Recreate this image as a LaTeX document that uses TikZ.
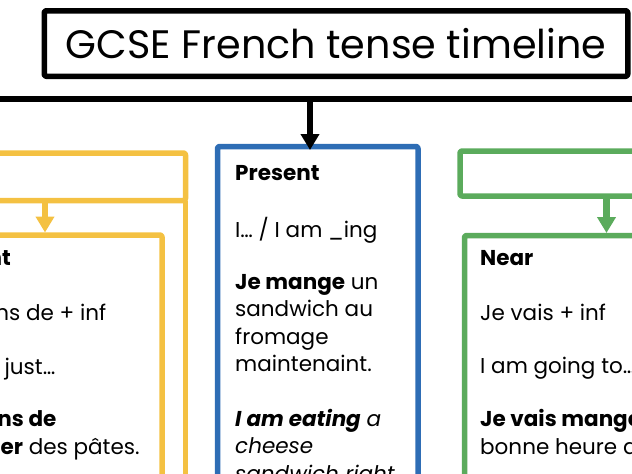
\documentclass[tikz,border=0pt]{standalone}
\usepackage{fontspec}
\setmainfont{Poppins}
\usetikzlibrary{arrows.meta}
\definecolor{pastcol}{HTML}{F4C142}
\definecolor{nowcol}{HTML}{2E6DB5}
\definecolor{futcol}{HTML}{5BAB5C}
\begin{document}
\begin{tikzpicture}[x=1pt,y=-1pt,line join=round,
    frame/.style={draw=#1,line width=5.5pt,rounded corners=2pt,inner sep=0pt,outer sep=0pt,anchor=north west},
    link/.style={draw=#1,line width=6.5pt,-{Triangle[length=16pt,width=18pt]}},
    words/.style={anchor=base west,inner sep=0pt,align=left,font=\fontsize{21.5}{27.5}\selectfont}]
  \useasboundingbox (0,0) rectangle (632,474);
  \clip (0,0) rectangle (632,474);
  % heading and timeline bar
  \node[draw,line width=5.5pt,rounded corners=2pt,inner sep=0pt,outer sep=0pt,
    minimum width=583.5pt,minimum height=65.5pt,font=\fontsize{39.7}{40}\selectfont] (title) at (336,43.5) {GCSE French tense timeline};
  \coordinate (barL) at (0,99);
  \coordinate (barR) at (632,99);
  \draw[line width=5.5pt] (barL) -- (barR);
  % boxes
  \node[frame=pastcol,minimum width=205.5pt,minimum height=47.5pt] (pasthead) at (-20,153) {};
  \node[frame=pastcol,minimum width=182pt,minimum height=300pt] (past) at (-20,235) {};
  \node[frame=nowcol,minimum width=200.5pt,minimum height=380pt] (present) at (217.5,146.5) {};
  \node[frame=futcol,minimum width=250pt,minimum height=45pt] (futhead) at (460,151) {};
  \node[frame=futcol,minimum width=250pt,minimum height=300pt] (future) at (464.5,235.5) {};
  \draw[pastcol,line width=5.5pt] (pasthead.south east) -- ++(0,300);
  % arrows
  \coordinate (drop) at (310,99);
  \coordinate (pastdrop) at (45,0);
  \coordinate (futdrop) at (606.5,0);
  \draw[link=black,shorten >=-3.5pt] (drop) -- (drop |- present.north);
  \draw[link=pastcol,shorten >=2.5pt] (pastdrop |- pasthead.south) -- (pastdrop |- past.north);
  \draw[link=futcol,shorten >=2.5pt] (futdrop |- futhead.south) -- (futdrop |- future.north);
  % texts (multi-line nodes sit on their last line)
  \node[words] (pastname) at (-66,265) {\textbf{Recent}};
  \node[words] (pastrule) at (-66,320) {Je viens de + inf};
  \node[words] (pasten) at (-66,374) {I have just…};
  \node[words] (pastfr) at (-66,454) {\textbf{Je viens de}\\\textbf{manger} des pâtes.};
  \node[words] (nowname) at (235,180) {\textbf{Present}};
  \node[words] (nowrule) at (235,237) {I… / I am \_ing};
  \node[words] (nowfr) at (235,371.5) {\textbf{Je mange} un\\sandwich au\\fromage\\maintenaint.};
  \node[words] (nowen) at (235,481) {\textbf{\textit{I am eating}} \textit{a}\\\textit{cheese}\\\textit{sandwich right}};
  \node[words] (futname) at (480,265) {\textbf{Near}};
  \node[words] (futrule) at (480,320) {Je vais + inf};
  \node[words] (futen) at (480,373) {I am going to…};
  \node[words] (futfr) at (480,454) {\textbf{Je vais manger}\\bonne heure demain.};
\end{tikzpicture}
\end{document}
